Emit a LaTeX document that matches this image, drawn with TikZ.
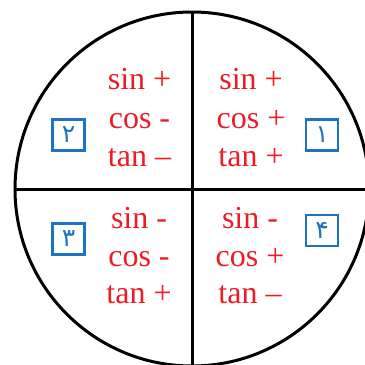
\documentclass[tikz,border=0pt]{standalone}
\usepackage{fontspec}
\setmainfont{Liberation Serif}
\newfontfamily\arabicfont[Script=Arabic]{DejaVu Sans}
\TeXXeTstate=1
\definecolor{tred}{RGB}{237,28,36}
\definecolor{tblue}{RGB}{30,115,195}
\begin{document}
\begin{tikzpicture}[x=1pt,y=-1pt,
  trig/.style={text=tred, font=\fontsize{32}{32}\selectfont, anchor=base, inner sep=0pt},
  qbox/.style={draw=tblue, line width=2.2pt, minimum width=32pt, minimum height=31pt, inner sep=0pt, text=tblue, font=\arabicfont\fontsize{25}{25}\selectfont},
  axis/.style={line width=3pt}]
\useasboundingbox (0,0) rectangle (365,365);
\coordinate (c) at (192,189);
\coordinate (top) at (192,12);
\coordinate (bot) at (192,366);
\coordinate (lft) at (14,189);
\coordinate (rgt) at (366,189);
\begin{scope}
\clip (0,0) rectangle (365,365);
\draw[axis] (c) circle (177pt);
\draw[axis] (top) -- (bot);
\draw[axis] (lft) -- (rgt);
\end{scope}
% quadrant II
\node[trig] (s2) at (139.5,89) {sin +};
\node[trig] (c2) at (139.5,128) {cos -};
\node[trig] (t2) at (139.5,166) {tan –};
% quadrant I
\node[trig] (s1) at (251,89) {sin +};
\node[trig] (c1) at (251,128) {cos +};
\node[trig] (t1) at (251,166) {tan +};
% quadrant III
\node[trig] (s3) at (139,228) {sin -};
\node[trig] (c3) at (139,266) {cos -};
\node[trig] (t3) at (139,303) {tan +};
% quadrant IV
\node[trig] (s4) at (250,228) {sin -};
\node[trig] (c4) at (250,266) {cos +};
\node[trig] (t4) at (250,303) {tan –};
% boxes
\node[qbox] (b2) at (68.5,135) {\beginR ۲\endR};
\node[qbox] (b1) at (322,135) {\beginR ۱\endR};
\node[qbox] (b3) at (68.5,239) {\beginR ۳\endR};
\node[qbox] (b4) at (322,230.5) {\beginR ۴\endR};
\end{tikzpicture}
\end{document}
